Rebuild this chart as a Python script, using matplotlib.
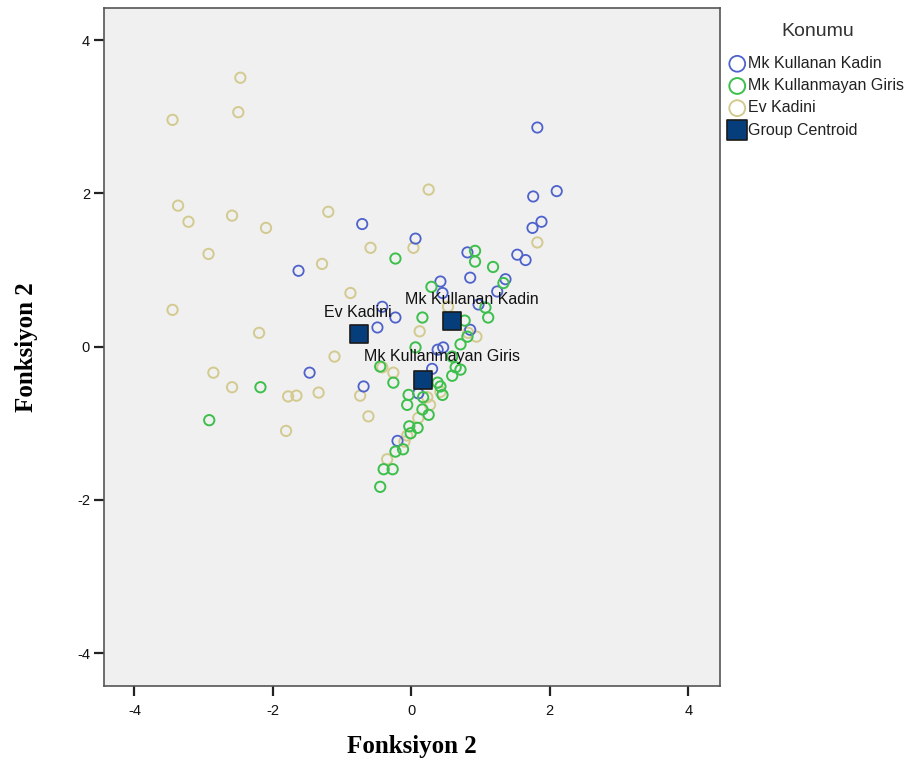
import numpy as np
import matplotlib
matplotlib.use('Agg')
import matplotlib.pyplot as plt
from matplotlib.ticker import FuncFormatter

# --- veri ---
# Mk Kullanan Kadin
mk_kullanan_x = [1.82, 2.10, 1.76, 1.88, 1.75, 1.53, 1.65, -0.71, 0.06, -1.63,
                 0.42, 0.81, 0.85, 1.36, 1.24, 0.45, -0.42, -0.49, -0.23, 0.85,
                 0.97, 0.46, 0.38, -1.47, -0.69, 0.10, 0.30, -0.20]
mk_kullanan_y = [2.86, 2.03, 1.96, 1.63, 1.55, 1.20, 1.13, 1.60, 1.41, 0.99,
                 0.85, 1.23, 0.90, 0.88, 0.72, 0.70, 0.52, 0.25, 0.38, 0.22,
                 0.55, -0.01, -0.04, -0.34, -0.52, -0.61, -0.29, -1.23]

# Mk Kullanmayan Giris
mk_kullanmayan_x = [-2.92, -2.18, -0.23, 0.29, 0.92, 0.92, 1.18, 1.33, 0.16, 0.77,
                    0.81, 1.11, 1.07, 0.06, 0.71, 0.59, 0.71, -0.45, -0.26, -0.04,
                    -0.06, 0.17, 0.16, 0.25, 0.42, 0.45, 0.38, 0.59, 0.64, -0.03,
                    0.09, -0.01, -0.23, -0.12, -0.40, -0.27, -0.45]
mk_kullanmayan_y = [-0.96, -0.53, 1.15, 0.78, 1.25, 1.11, 1.04, 0.83, 0.38, 0.34,
                    0.13, 0.38, 0.51, -0.01, 0.03, -0.13, -0.30, -0.26, -0.47, -0.63,
                    -0.76, -0.66, -0.82, -0.89, -0.52, -0.63, -0.47, -0.38, -0.27, -1.04,
                    -1.06, -1.13, -1.37, -1.34, -1.60, -1.60, -1.83]

# Ev Kadini
ev_kadini_x = [-2.47, -2.50, -3.45, -3.37, -3.22, -2.59, -2.10, -1.20, -2.93, -1.29,
               -0.59, 0.03, 0.25, -0.88, -3.45, -2.20, -1.11, -2.86, -2.59, -1.78,
               -1.66, -1.34, -1.81, -0.74, -0.62, 0.12, 0.53, 0.94, 1.82, -0.42,
               -0.26, 0.23, 0.27, 0.10, -0.06, -0.10, -0.35, 0.42, 0.82]
ev_kadini_y = [3.51, 3.06, 2.96, 1.84, 1.63, 1.71, 1.55, 1.76, 1.21, 1.08,
               1.29, 1.29, 2.05, 0.70, 0.48, 0.18, -0.13, -0.34, -0.53, -0.65,
               -0.64, -0.60, -1.10, -0.64, -0.91, 0.20, 0.52, 0.13, 1.36, -0.27,
               -0.34, -0.66, -0.76, -0.93, -1.16, -1.24, -1.47, -0.59, 0.18]

# grup merkezleri
centroid_names = ['Mk Kullanan Kadin', 'Mk Kullanmayan Giris', 'Ev Kadini']
centroid_x = [0.59, 0.17, -0.75]
centroid_y = [0.34, -0.44, 0.17]

legend_labels = ['Mk Kullanan Kadin', 'Mk Kullanmayan Giris', 'Ev Kadini', 'Group Centroid']

# --- cizim ---
fig = plt.figure(figsize=(9.06, 7.62), dpi=100)
ax = fig.add_axes([0.1148, 0.0997, 0.680, 0.8898])
ax.set_facecolor('#f0f0f0')

c_blue = '#4e62cc'
c_green = '#3dbf4c'
c_tan = '#d3ca90'

h_ev = ax.scatter(ev_kadini_x, ev_kadini_y, s=55, facecolors='none',
                  edgecolors=c_tan, linewidths=1.4, zorder=2)
h_mk = ax.scatter(mk_kullanan_x, mk_kullanan_y, s=55, facecolors='none',
                  edgecolors=c_blue, linewidths=1.3, zorder=3)
h_mkg = ax.scatter(mk_kullanmayan_x, mk_kullanmayan_y, s=55, facecolors='none',
                   edgecolors=c_green, linewidths=1.4, zorder=4)
h_c = ax.scatter(centroid_x, centroid_y, s=170, marker='s', facecolor='#063e7c',
                 edgecolor='#1a1a1a', linewidths=1.2, zorder=6)

# merkez etiketleri
offsets = [(20, 21), (19, 24), (-2, 21)]
for name, cx, cy, off in zip(centroid_names, centroid_x, centroid_y, offsets):
    ax.annotate(name, (cx, cy), xytext=off, textcoords='offset pixels',
                ha='center', va='center', fontsize=11.5, family='Liberation Sans',
                color='#111111', zorder=7)

ax.set_xlim(-4.44, 4.46)
ax.set_ylim(-4.43, 4.42)
ax.set_xticks([-4, -2, 0, 2, 4])
ax.set_yticks([-4, -2, 0, 2, 4])
ax.xaxis.set_major_formatter(FuncFormatter(lambda v, p: '%d' % v))
ax.yaxis.set_major_formatter(FuncFormatter(lambda v, p: '%d' % v))
ax.tick_params(direction='out', length=7, width=1.6, color='#222222',
               labelsize=10.5, labelcolor='#111111', pad=3)
ax.tick_params(axis='x', pad=6)
for lab in ax.get_xticklabels() + ax.get_yticklabels():
    lab.set_family('Liberation Sans')

for sp in ax.spines.values():
    sp.set_color('#555555')
    sp.set_linewidth(1.2)

ax.set_xlabel('Fonksiyon 2', fontsize=18, fontweight='bold',
              family='Liberation Serif', labelpad=12)
ax.set_ylabel('Fonksiyon 2', fontsize=18, fontweight='bold',
              family='Liberation Serif', labelpad=28)

# lejant
fig.text(818 / 906, 1 - 31 / 762, 'Konumu', ha='center', va='center',
         fontsize=14, family='Liberation Sans', color='#333333')
leg = ax.legend([h_mk, h_mkg, h_ev, h_c], legend_labels,
                loc='upper left', bbox_to_anchor=(0.797, 1 - 48 / 762),
                bbox_transform=fig.transFigure, frameon=False,
                markerscale=1.0, handlelength=0.9,
                handletextpad=0.25, labelspacing=0.45, borderpad=0.0,
                prop={'family': 'Liberation Sans', 'size': 11.5})
for t in leg.get_texts():
    t.set_color('#222222')
for h in leg.legend_handles[:3]:
    h.set_sizes([130])
leg.legend_handles[3].set_sizes([200])

plt.savefig('out.png', dpi=100)
